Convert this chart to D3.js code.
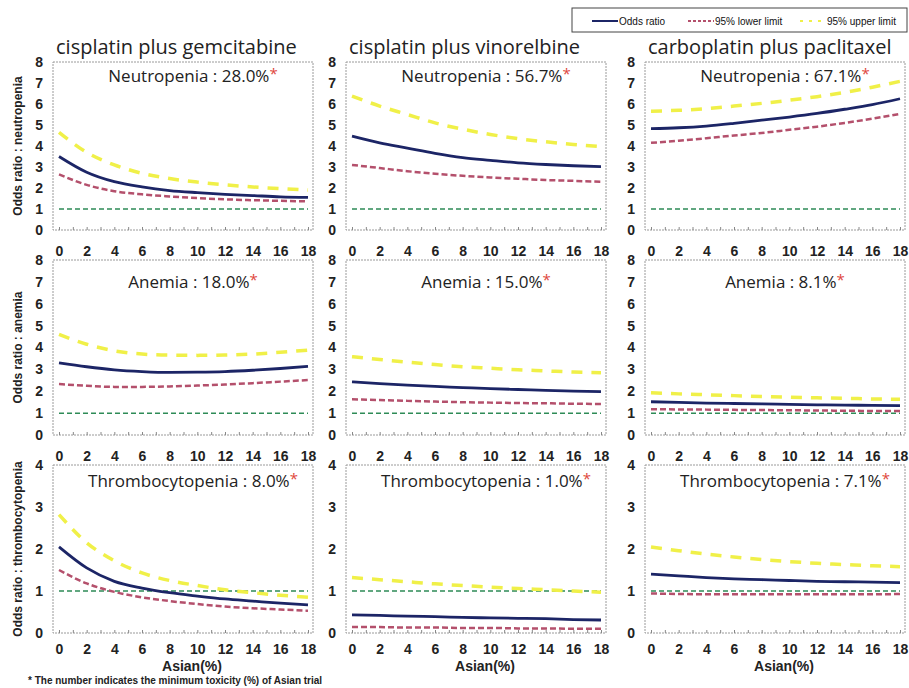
<!DOCTYPE html>
<html>
<head>
<meta charset="utf-8">
<script src="https://cdn.jsdelivr.net/npm/d3@7.9.0/dist/d3.min.js"></script>
<style>
  body { margin: 0; background: #fff; }
  svg { display: block; }
  .tick-lbl { font-family: "Liberation Sans", Arial, sans-serif; font-weight: bold; font-size: 14px; fill: #222; }
  .ylab { font-family: "Liberation Sans Narrow", "Liberation Sans", Arial, sans-serif; font-weight: bold; font-size: 12px; fill: #222; }
  .title { font-family: "Open Sans", "Noto Sans", sans-serif; font-size: 20px; fill: #222; }
  .sub { font-family: "Open Sans", "Noto Sans", sans-serif; font-size: 17px; fill: #222; }
</style>
</head>
<body>
<svg id="chart" width="909" height="688"></svg>
<script>
// x axis: share of Asian patients (%)
const asianPct = [0, 2, 4, 6, 8, 10, 12, 14, 16, 18];
const xTicks = [0, 2, 4, 6, 8, 10, 12, 14, 16, 18];

const regimens = ['cisplatin plus gemcitabine', 'cisplatin plus vinorelbine', 'carboplatin plus paclitaxel'];
const toxicities = ['Neutropenia', 'Anemia', 'Thrombocytopenia'];
const yLabels = ['Odds ratio : neutropenia', 'Odds ratio : anemia', 'Odds ratio : thrombocytopenia'];
const yMax = [8, 8, 4];
const minToxicity = [
  ['28.0%', '56.7%', '67.1%'],
  ['18.0%', '15.0%', '8.1%'],
  ['8.0%', '1.0%', '7.1%']
];

// neutropenia, one array per regimen
const oddsNeutropenia = [
  [3.5, 2.75, 2.3, 2.05, 1.88, 1.78, 1.7, 1.64, 1.58, 1.55],
  [4.47, 4.15, 3.9, 3.65, 3.45, 3.32, 3.2, 3.12, 3.06, 3.02],
  [4.83, 4.87, 4.95, 5.08, 5.23, 5.38, 5.55, 5.75, 5.97, 6.25]
];
const lowerNeutropenia = [
  [2.65, 2.15, 1.85, 1.7, 1.6, 1.52, 1.46, 1.42, 1.39, 1.36],
  [3.1, 2.95, 2.8, 2.68, 2.58, 2.5, 2.44, 2.38, 2.34, 2.3],
  [4.15, 4.25, 4.37, 4.5, 4.62, 4.77, 4.92, 5.1, 5.3, 5.53]
];
const upperNeutropenia = [
  [4.65, 3.7, 3.1, 2.7, 2.45, 2.28, 2.15, 2.05, 1.97, 1.9],
  [6.38, 5.9, 5.5, 5.1, 4.8, 4.55, 4.35, 4.2, 4.07, 3.97],
  [5.66, 5.7, 5.78, 5.9, 6.03, 6.18, 6.35, 6.55, 6.8, 7.08]
];

// anemia
const oddsAnemia = [
  [3.3, 3.12, 2.98, 2.9, 2.86, 2.87, 2.9, 2.96, 3.04, 3.14],
  [2.43, 2.35, 2.28, 2.22, 2.17, 2.12, 2.08, 2.04, 2.01, 1.98],
  [1.52, 1.49, 1.46, 1.44, 1.42, 1.4, 1.38, 1.37, 1.35, 1.34]
];
const lowerAnemia = [
  [2.33, 2.25, 2.2, 2.2, 2.22, 2.26, 2.31, 2.37, 2.44, 2.51],
  [1.63, 1.6, 1.56, 1.53, 1.5, 1.48, 1.46, 1.45, 1.43, 1.42],
  [1.18, 1.17, 1.16, 1.15, 1.14, 1.13, 1.12, 1.11, 1.1, 1.1]
];
const upperAnemia = [
  [4.6, 4.15, 3.85, 3.7, 3.65, 3.64, 3.66, 3.7, 3.78, 3.88],
  [3.58, 3.45, 3.33, 3.22, 3.12, 3.05, 2.98, 2.93, 2.88, 2.85],
  [1.93, 1.88, 1.84, 1.8, 1.76, 1.73, 1.7, 1.68, 1.65, 1.63]
];

// thrombocytopenia
const oddsThrombo = [
  [2.05, 1.55, 1.23, 1.07, 0.96, 0.88, 0.81, 0.76, 0.71, 0.67],
  [0.43, 0.42, 0.4, 0.39, 0.37, 0.36, 0.35, 0.34, 0.32, 0.31],
  [1.4, 1.36, 1.32, 1.29, 1.27, 1.25, 1.23, 1.22, 1.21, 1.2]
];
const lowerThrombo = [
  [1.5, 1.18, 0.98, 0.85, 0.76, 0.69, 0.63, 0.59, 0.56, 0.53],
  [0.14, 0.14, 0.13, 0.13, 0.12, 0.12, 0.11, 0.11, 0.1, 0.1],
  [0.94, 0.93, 0.92, 0.92, 0.92, 0.92, 0.92, 0.92, 0.92, 0.93]
];
const upperThrombo = [
  [2.82, 2.15, 1.72, 1.43, 1.25, 1.13, 1.03, 0.96, 0.9, 0.85],
  [1.32, 1.27, 1.22, 1.17, 1.13, 1.09, 1.06, 1.03, 1.0, 0.97],
  [2.05, 1.96, 1.88, 1.81, 1.75, 1.7, 1.66, 1.63, 1.6, 1.58]
];

const refValue = 1;

// rows = toxicity, cols = regimen
const oddsByRow = [oddsNeutropenia, oddsAnemia, oddsThrombo];
const lowerByRow = [lowerNeutropenia, lowerAnemia, lowerThrombo];
const upperByRow = [upperNeutropenia, upperAnemia, upperThrombo];

// layout
const colLeft = [53, 346, 645];
const boxW = 260;
const rowTop = [62, 260, 465];
const rowBottom = [230, 435, 633];
const subY = [82, 288, 487];

const styles = {
  ref:   { color: '#2e8b57', width: 1.5, dash: '5,3' },
  lower: { color: '#b4506c', width: 2.5, dash: '6,3' },
  upper: { color: '#f0f048', width: 3.5, dash: '11,9' },
  odds:  { color: '#1c2566', width: 2.8, dash: null }
};

const svg = d3.select('#chart');

// legend
const leg = svg.append('g');
leg.append('rect').attr('x', 572).attr('y', 8).attr('width', 335).attr('height', 24)
  .attr('fill', '#fff').attr('stroke', '#444').attr('stroke-width', 1);
const legItems = [
  { key: 'odds', label: 'Odds ratio', x: 592 },
  { key: 'lower', label: '95% lower limit', x: 688 },
  { key: 'upper', label: '95% upper limit', x: 800 }
];
legItems.forEach(d => {
  const s = styles[d.key];
  leg.append('line').attr('x1', d.x).attr('x2', d.x + 26).attr('y1', 21).attr('y2', 21)
    .attr('stroke', s.color).attr('stroke-width', 2)
    .attr('stroke-dasharray', d.key === 'odds' ? null : (d.key === 'lower' ? '3,2' : '3,6'));
  leg.append('text').attr('x', d.x + 27).attr('y', 25)
    .attr('font-family', '"Liberation Sans Narrow", "Liberation Sans", Arial, sans-serif')
    .attr('font-size', 10).attr('fill', '#111').text(d.label);
});

for (let r = 0; r < 3; r++) {
  for (let c = 0; c < 3; c++) {
    const left = colLeft[c];
    const x = d3.scaleLinear().domain([0, 18]).range([left + 6, left + boxW - 5]);
    const y = d3.scaleLinear().domain([0, yMax[r]]).range([rowBottom[r], rowTop[r]]);
    const g = svg.append('g');

    // plot frame
    g.append('rect').attr('x', left).attr('y', rowTop[r])
      .attr('width', boxW).attr('height', rowBottom[r] - rowTop[r])
      .attr('fill', 'none').attr('stroke', '#9a9a9a').attr('stroke-width', 1)
      .attr('stroke-dasharray', '2,1');

    // small ticks along bottom
    g.append('g').attr('transform', `translate(0,${rowBottom[r]})`)
      .call(d3.axisTop(x).tickValues(d3.range(0, 19)).tickSize(3).tickFormat(''))
      .call(a => a.select('.domain').remove())
      .call(a => a.selectAll('line').attr('stroke', '#888'));

    // y axis labels
    g.append('g').attr('transform', `translate(${left - 4},0)`)
      .call(d3.axisLeft(y).ticks(yMax[r]).tickSize(0).tickPadding(6))
      .call(a => a.select('.domain').remove())
      .call(a => a.selectAll('text').attr('class', 'tick-lbl').attr('font-size', null).attr('font-family', null));

    // x tick labels: top for rows 2 and 3, bottom for row 3
    if (r > 0) {
      g.append('g').attr('transform', `translate(0,${rowTop[r] - 1})`)
        .call(d3.axisTop(x).tickValues(xTicks).tickSize(0).tickPadding(3))
        .call(a => a.select('.domain').remove())
        .call(a => a.selectAll('text').attr('class', 'tick-lbl').attr('font-size', null).attr('font-family', null));
    }
    if (r === 2) {
      g.append('g').attr('transform', `translate(0,${rowBottom[r] + 11})`)
        .call(d3.axisBottom(x).tickValues(xTicks).tickSize(0).tickPadding(0))
        .call(a => a.select('.domain').remove())
        .call(a => a.selectAll('text').attr('class', 'tick-lbl').attr('font-size', null).attr('font-family', null));
      g.append('text').attr('class', 'tick-lbl').attr('font-size', 12)
        .attr('x', left + boxW / 2 + 9).attr('y', 671).attr('text-anchor', 'middle')
        .text('Asian(%)');
    }

    // series
    const pts = (arr) => asianPct.map((p, i) => [p, arr[i]]);
    const line = d3.line().x(d => x(d[0])).y(d => y(d[1])).curve(d3.curveMonotoneX);
    const draw = (data, s) => g.append('path').attr('d', line(data))
      .attr('fill', 'none').attr('stroke', s.color).attr('stroke-width', s.width)
      .attr('stroke-dasharray', s.dash);

    draw([[0, refValue], [18, refValue]], styles.ref);
    draw(pts(lowerByRow[r][c]), styles.lower);
    draw(pts(upperByRow[r][c]), styles.upper);
    draw(pts(oddsByRow[r][c]), styles.odds);

    // subtitle
    const st = g.append('text').attr('class', 'sub')
      .attr('x', left + boxW / 2 + 10).attr('y', subY[r]).attr('text-anchor', 'middle');
    st.append('tspan').text(`${toxicities[r]} : ${minToxicity[r][c]}`);
    st.append('tspan').attr('fill', '#e0463c').attr('font-size', 15).attr('dy', -3).text('*');

    // column titles
    if (r === 0) {
      g.append('text').attr('class', 'title').attr('x', left + 3).attr('y', 54)
        .text(regimens[c]);
    }
    // row y label
    if (c === 0) {
      const cy = (rowTop[r] + rowBottom[r]) / 2;
      g.append('text').attr('class', 'ylab')
        .attr('transform', `translate(22,${cy}) rotate(-90)`)
        .attr('text-anchor', 'middle').text(yLabels[r]);
    }
  }
}

svg.append('text').attr('x', 28).attr('y', 684)
  .attr('font-family', '"Liberation Sans", Arial, sans-serif').attr('font-weight', 'bold')
  .attr('font-size', 10).attr('fill', '#222')
  .text('* The number indicates the minimum toxicity (%) of Asian trial');
</script>
</body>
</html>
